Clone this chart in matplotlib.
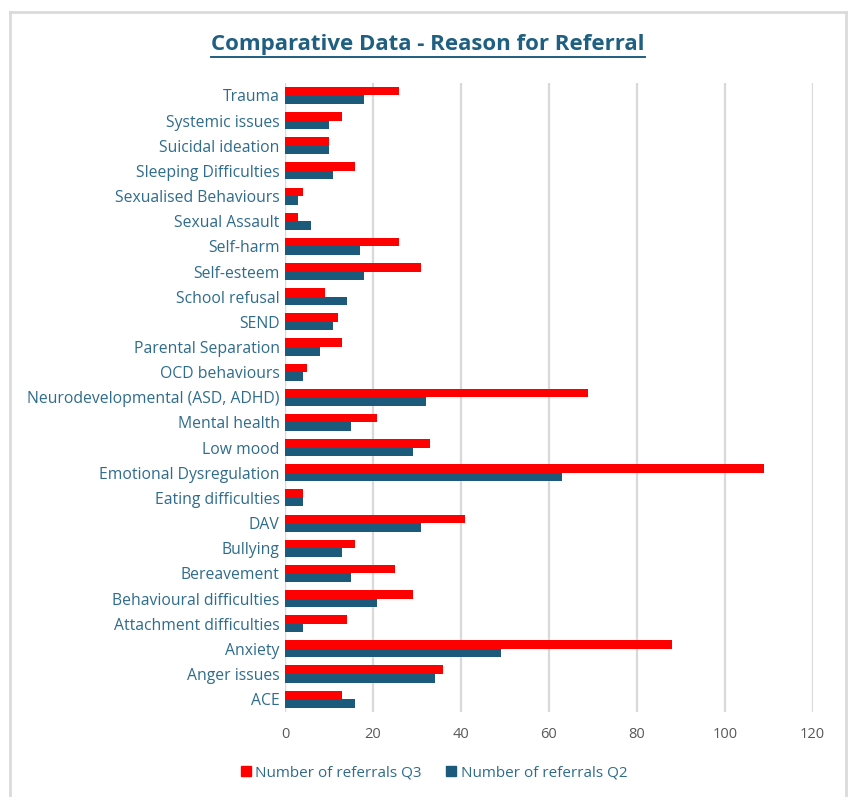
import matplotlib.pyplot as plt
import numpy as np
from matplotlib.lines import Line2D
from matplotlib.patches import Patch

plt.rcParams['font.family'] = ['Open Sans', 'DejaVu Sans']

# categories, top to bottom as in the chart
categories = [
    "Trauma", "Systemic issues", "Suicidal ideation", "Sleeping Difficulties",
    "Sexualised Behaviours", "Sexual Assault", "Self-harm", "Self-esteem",
    "School refusal", "SEND", "Parental Separation", "OCD behaviours",
    "Neurodevelopmental (ASD, ADHD)", "Mental health", "Low mood",
    "Emotional Dysregulation", "Eating difficulties", "DAV", "Bullying",
    "Bereavement", "Behavioural difficulties", "Attachment difficulties",
    "Anxiety", "Anger issues", "ACE",
]
q3 = [26, 13, 10, 16, 4, 3, 26, 31, 9, 12, 13, 5, 69, 21, 33, 109, 4, 41, 16,
      25, 29, 14, 88, 36, 13]
q2 = [18, 10, 10, 11, 3, 6, 17, 18, 14, 11, 8, 4, 32, 15, 29, 63, 4, 31, 13,
      15, 21, 4, 49, 34, 16]
x_ticks = [0, 20, 40, 60, 80, 100, 120]

RED = "#FF0000"
BLUE = "#1B5A7A"
LABEL = "#2F6C8C"
GRID = "#D9D9D9"

fig = plt.figure(figsize=(8.51, 7.97), dpi=100)
ax = fig.add_axes([0.335, 0.107, 0.62, 0.789])

y = np.arange(len(categories))
h = 0.34
ax.barh(y - h / 2, q3, height=h, color=RED, label="Number of referrals Q3", zorder=3)
ax.barh(y + h / 2, q2, height=h, color=BLUE, label="Number of referrals Q2", zorder=3)

ax.set_ylim(len(categories) - 0.5, -0.5)
ax.set_yticks(y)
ax.set_yticklabels(categories, color=LABEL, fontsize=11.3)
ax.set_xlim(0, 120)
ax.set_xticks(x_ticks)
ax.set_xticklabels([str(t) for t in x_ticks], color="#595959", fontsize=10.5)
ax.tick_params(axis="both", length=0, pad=4)
ax.tick_params(axis="x", pad=11)
ax.xaxis.grid(True, color=GRID, linewidth=1.6, zorder=0)
for s in ax.spines.values():
    s.set_visible(False)
ax.axvline(0, color=GRID, linewidth=1.6, zorder=1)

handles = [Patch(color=RED, label="Number of referrals Q3"),
           Patch(color=BLUE, label="Number of referrals Q2")]
leg = fig.legend(handles=handles, loc="center", bbox_to_anchor=(0.51, 0.030),
                 ncol=2, frameon=False, fontsize=11, handlelength=0.65,
                 handleheight=0.65, handletextpad=0.3, columnspacing=1.6)
for t in leg.get_texts():
    t.set_color(LABEL)

title = fig.text(0.503, 0.944, "Comparative Data - Reason for Referral",
                 ha="center", va="center", fontsize=16, fontweight="bold",
                 color="#1F5F82")

# underline the title
fig.canvas.draw()
bb = title.get_window_extent().transformed(fig.transFigure.inverted())
fig.add_artist(Line2D([bb.x0, bb.x1], [bb.y0 - 0.002, bb.y0 - 0.002],
                      color="#1F5F82", linewidth=1.4))

# outer frame (open at the bottom)
frame = dict(color="#DADADA", linewidth=2)
fig.add_artist(Line2D([0.012, 0.012], [0.0, 0.985], **frame))
fig.add_artist(Line2D([0.994, 0.994], [0.0, 0.985], **frame))
fig.add_artist(Line2D([0.012, 0.994], [0.985, 0.985], **frame))

fig.savefig("out.png", dpi=100)
